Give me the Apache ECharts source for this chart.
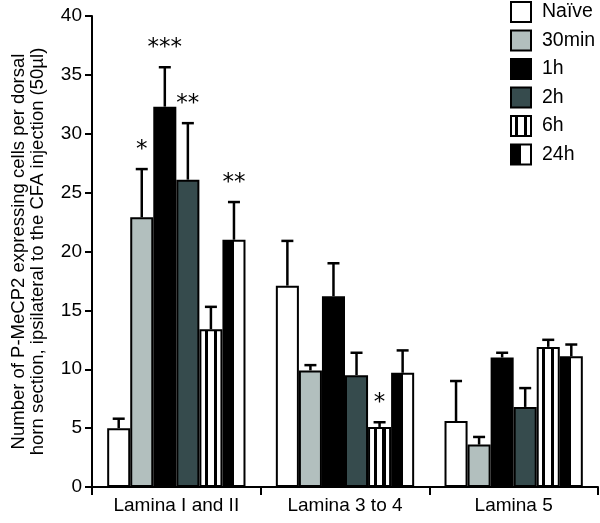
<!DOCTYPE html>
<html>
<head>
<meta charset="utf-8">
<script src="https://cdn.jsdelivr.net/npm/echarts@6/dist/echarts.min.js"></script>
<style>html,body{margin:0;padding:0;background:#fff}#c{width:600px;height:523px}</style>
</head>
<body>
<div id="c"></div>
<script>
var categories = ['Lamina I and II', 'Lamina 3 to 4', 'Lamina 5'];
var seriesNames = ['Naïve', '30min', '1h', '2h', '6h', '24h'];
var naive  = [5.0, 17.1, 5.6];
var min30  = [22.9, 9.9, 3.6];
var h1     = [32.3, 16.2, 11.0];
var h2     = [26.1, 9.5, 6.8];
var h6     = [13.4, 5.1, 11.9];
var h24    = [21.0, 9.7, 11.1];
var naiveSem = [0.8, 3.8, 3.4];
var min30Sem = [4.1, 0.45, 0.65];
var h1Sem    = [3.35, 2.8, 0.4];
var h2Sem    = [4.8, 1.9, 1.6];
var h6Sem    = [1.9, 0.4, 0.6];
var h24Sem   = [3.2, 1.9, 1.0];
var naiveSig = ['', '', ''];
var min30Sig = ['*', '', ''];
var h1Sig    = ['***', '', ''];
var h2Sig    = ['**', '', ''];
var h6Sig    = ['', '*', ''];
var h24Sig   = ['**', '', ''];
var yTicks = [0, 5, 10, 15, 20, 25, 30, 35, 40];

var values = [naive, min30, h1, h2, h6, h24];
var sems = [naiveSem, min30Sem, h1Sem, h2Sem, h6Sem, h24Sem];
var sigs = [naiveSig, min30Sig, h1Sig, h2Sig, h6Sig, h24Sig];

function hGrad(stops) {
  return { type: 'linear', x: 0, y: 0, x2: 1, y2: 0, colorStops: stops };
}
var fills = [
  '#ffffff',
  '#b2bfbe',
  '#000000',
  '#364b4d',
  hGrad([
    {offset: 0, color: '#fff'}, {offset: 0.24, color: '#fff'},
    {offset: 0.24, color: '#000'}, {offset: 0.38, color: '#000'},
    {offset: 0.38, color: '#fff'}, {offset: 0.62, color: '#fff'},
    {offset: 0.62, color: '#000'}, {offset: 0.76, color: '#000'},
    {offset: 0.76, color: '#fff'}, {offset: 1, color: '#fff'}
  ]),
  hGrad([
    {offset: 0, color: '#000'}, {offset: 0.5, color: '#000'},
    {offset: 0.5, color: '#fff'}, {offset: 1, color: '#fff'}
  ])
];

var CAT_GAP = 0.18;
var series = [];
seriesNames.forEach(function (name, i) {
  series.push({
    name: name,
    type: 'bar',
    data: values[i],
    barGap: '0%',
    barCategoryGap: (CAT_GAP * 100) + '%',
    itemStyle: { color: fills[i], borderColor: '#000', borderWidth: 2 },
    emphasis: { disabled: true },
    animation: false
  });
});

var errData = [];
for (var s = 0; s < seriesNames.length; s++) {
  for (var c = 0; c < categories.length; c++) {
    errData.push([c, s, values[s][c], values[s][c] + sems[s][c], sigs[s][c]]);
  }
}

series.push({
  type: 'custom',
  name: 'err',
  data: errData,
  z: 10,
  animation: false,
  silent: true,
  encode: { x: 0, y: 3 },
  renderItem: function (params, api) {
    var c = api.value(0), s = api.value(1), v = api.value(2), e = api.value(3);
    var sig = errData[params.dataIndex][4];
    var band = api.size([1, 0])[0];
    var groupW = band * (1 - CAT_GAP);
    var bw = groupW / seriesNames.length;
    var center = api.coord([c, 0])[0];
    var x = center - groupW / 2 + bw * (s + 0.5);
    var yb = api.coord([c, v])[1];
    var yt = api.coord([c, e])[1];
    var capHalf = 6;
    var children = [
      { type: 'line', shape: { x1: x, y1: yb, x2: x, y2: yt }, style: { stroke: '#000', lineWidth: 2.5 } },
      { type: 'line', shape: { x1: x - capHalf, y1: yt, x2: x + capHalf, y2: yt }, style: { stroke: '#000', lineWidth: 2.5 } }
    ];
    if (sig) {
      children.push({
        type: 'text',
        style: {
          text: sig, x: x, y: yt - 19,
          align: 'center', verticalAlign: 'middle',
          fontSize: 23, fontFamily: 'DejaVu Sans', fill: '#000'
        }
      });
    }
    return { type: 'group', children: children };
  }
});

var chart = echarts.init(document.getElementById('c'), null, { renderer: 'canvas' });
chart.setOption({
  animation: false,
  backgroundColor: '#fff',
  grid: { left: 92, right: 2, top: 16, bottom: 36, containLabel: false, outerBoundsMode: 'none' },
  legend: {
    data: seriesNames,
    orient: 'vertical',
    left: 510,
    top: 1,
    itemWidth: 20,
    itemHeight: 20,
    itemGap: 6.5,
    icon: 'rect',
    backgroundColor: '#fff',
    padding: [0, 2, 2, 0],
    selectedMode: false,
    textStyle: { fontFamily: 'Liberation Sans', fontSize: 19.5, color: '#000', padding: [0, 0, 0, 6] }
  },
  xAxis: {
    type: 'category',
    data: categories,
    axisLine: { lineStyle: { color: '#000', width: 2 } },
    axisTick: { show: true, length: 8, lineStyle: { color: '#000', width: 2 } },
    axisLabel: { fontFamily: 'Liberation Sans', fontSize: 19, color: '#000', margin: 9 }
  },
  yAxis: {
    type: 'value',
    min: 0,
    max: 40,
    interval: 5,
    name: 'Number of P-MeCP2 expressing cells per dorsal\nhorn section, ipsilateral to the CFA injection (50µl)',
    nameLocation: 'middle',
    nameGap: 45,
    nameRotate: 90,
    nameTextStyle: { fontFamily: 'Liberation Sans', fontSize: 18.5, color: '#000', lineHeight: 19 },
    axisLine: { show: true, lineStyle: { color: '#000', width: 2 } },
    axisTick: { show: true, length: 7, lineStyle: { color: '#000', width: 2 } },
    splitLine: { show: false },
    axisLabel: {
      fontFamily: 'Liberation Sans', fontSize: 19, color: '#000', margin: 10,
      formatter: function (v) { return yTicks.indexOf(v) >= 0 ? String(v) : ''; }
    }
  },
  series: series
});
</script>
</body>
</html>
